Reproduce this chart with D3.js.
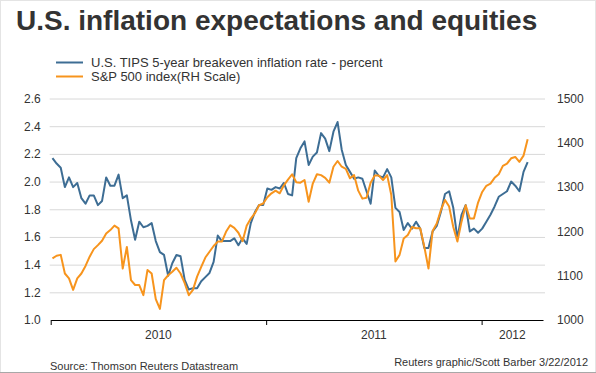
<!DOCTYPE html>
<html>
<head>
<meta charset="utf-8">
<script src="https://cdn.jsdelivr.net/npm/d3@7"></script>
<style>
    body { margin: 0; background: #fff; }
    text { font-family: "Liberation Sans", Arial, sans-serif; fill: #333; }
</style>
</head>
<body>
<div id="chart"></div>
<script>
// Weekly readings, first week starting Mon 4 Jan 2010
const firstWeek = new Date(2010, 0, 4);

// U.S. TIPS 5-year breakeven inflation rate, percent
const tipsRate = [
    2.17, 2.13, 2.10, 1.96, 2.03, 1.96, 1.99, 1.88, 1.84, 1.90,
    1.90, 1.83, 1.86, 2.03, 1.97, 1.97, 2.05, 1.88, 1.90, 1.72,
    1.58, 1.71, 1.67, 1.68, 1.70, 1.57, 1.49, 1.47, 1.32, 1.41,
    1.47, 1.46, 1.29, 1.22, 1.23, 1.23, 1.28, 1.31, 1.34, 1.42,
    1.61, 1.57, 1.57, 1.57, 1.59, 1.54, 1.59, 1.55, 1.70, 1.78,
    1.83, 1.83, 1.95, 1.94, 1.96, 1.95, 1.99, 1.91, 1.90, 2.17,
    2.24, 2.29, 2.12, 2.18, 2.21, 2.35, 2.31, 2.22, 2.36, 2.43,
    2.23, 2.12, 2.07, 2.02, 2.03, 2.02, 1.93, 1.84, 2.08, 2.04,
    2.03, 2.09, 2.03, 1.81, 1.78, 1.65, 1.70, 1.66, 1.71, 1.66,
    1.52, 1.52, 1.64, 1.68, 1.78, 1.91, 1.93, 1.81, 1.59, 1.76,
    1.83, 1.64, 1.66, 1.63, 1.66, 1.71, 1.76, 1.82, 1.89, 1.91,
    1.93, 2.00, 1.97, 1.93, 2.07, 2.14
];

// S&P 500 index (right hand scale)
const spx = [
    1139, 1145, 1147, 1105, 1094, 1068, 1094, 1105, 1122, 1143,
    1160, 1169, 1179, 1195, 1203, 1213, 1207, 1116, 1165, 1090,
    1079, 1079, 1056, 1113, 1105, 1047, 1025, 1090, 1101, 1109,
    1118, 1105, 1083, 1056, 1068, 1098, 1120, 1141, 1154, 1167,
    1177, 1177, 1199, 1214, 1208, 1197, 1178, 1213, 1229, 1241,
    1259, 1263, 1277, 1286, 1292, 1286, 1304, 1317, 1329, 1311,
    1310, 1316, 1267, 1308, 1329, 1327, 1321, 1310, 1346, 1359,
    1346, 1341, 1320, 1327, 1292, 1274, 1276, 1310, 1326, 1326,
    1316, 1327, 1282, 1132, 1147, 1184, 1192, 1210, 1207, 1207,
    1165, 1116, 1201, 1218, 1248, 1271, 1256, 1210, 1177, 1222,
    1259, 1229, 1229, 1265, 1289, 1303, 1308, 1321, 1329, 1348,
    1353, 1365, 1368, 1357, 1371, 1408
];

const leftTicks = [1.0, 1.2, 1.4, 1.6, 1.8, 2.0, 2.2, 2.4, 2.6];
const rightTicks = [1000, 1100, 1200, 1300, 1400, 1500];
const years = ["2010", "2011", "2012"];
const seriesNames = [
    "U.S. TIPS 5-year breakeven inflation rate - percent",
    "S&P 500 index(RH Scale)"
];

const colors = {blue: "#3d6d94", orange: "#f7941d"};

const width = 596;
const height = 373;

const plot = {left: 50.7, right: 543, top: 98.5, bottom: 320};

function main() {
    const dates = tipsRate.map((d, i) => d3.timeWeek.offset(firstWeek, i));

    const svg = d3.select("#chart")
        .append("svg")
        .attr("width", width)
        .attr("height", height);

    // frame
    svg.append("rect")
        .attr("x", 0.5).attr("y", 0.5)
        .attr("width", width - 1).attr("height", height - 1)
        .attr("fill", "#fff")
        .attr("stroke", "#e4e4e4");
    svg.append("line")
        .attr("x1", 0).attr("x2", width)
        .attr("y1", height - 0.5).attr("y2", height - 0.5)
        .attr("stroke", "#a8a8a8");

    const x = d3.scaleTime()
        .domain([new Date(2010, 0, 1), new Date(2012, 3, 14)])
        .range([plot.left, plot.right]);

    const yLeft = d3.scaleLinear()
        .domain([1.0, 2.6])
        .range([plot.bottom, plot.top]);

    const yRight = d3.scaleLinear()
        .domain([1000, 1500])
        .range([plot.bottom, plot.top]);

    // Title
    svg.append("text")
        .attr("x", 16)
        .attr("y", 30)
        .style("font-size", "28px")
        .style("font-weight", "bold")
        .text("U.S. inflation expectations and equities");

    // Legend
    const legend = svg.append("g")
        .selectAll("g")
        .data(seriesNames)
        .enter()
        .append("g")
        .attr("transform", (d, i) => `translate(56, ${62.5 + i * 14})`);

    legend.append("line")
        .attr("x1", 0).attr("x2", 27)
        .attr("stroke", (d, i) => i === 0 ? colors.blue : colors.orange)
        .attr("stroke-width", 2);

    legend.append("text")
        .attr("x", 35)
        .attr("y", 4.5)
        .style("font-size", "13px")
        .text(d => d);

    // Grid lines
    svg.append("g")
        .attr("transform", `translate(${plot.left - 1}, 0)`)
        .call(d3.axisRight(yLeft)
            .tickValues(leftTicks.slice(1))
            .tickSize(plot.right + 2 - plot.left + 1)
            .tickFormat(""))
        .call(g => g.select(".domain").remove())
        .call(g => g.selectAll("line").attr("stroke", "#d8d8d8"));

    // Left axis labels
    svg.append("g")
        .attr("transform", `translate(${plot.left - 10}, 0)`)
        .call(d3.axisLeft(yLeft)
            .tickValues(leftTicks)
            .tickSize(0)
            .tickPadding(0)
            .tickFormat(d3.format(".1f")))
        .call(g => g.select(".domain").remove())
        .call(g => g.selectAll("text").style("font-size", "12px")
            .attr("font-family", null));

    // Right axis labels
    svg.append("g")
        .attr("transform", `translate(${plot.right + 14}, 0)`)
        .call(d3.axisRight(yRight)
            .tickValues(rightTicks)
            .tickSize(0)
            .tickPadding(0)
            .tickFormat(d3.format("d")))
        .call(g => g.select(".domain").remove())
        .call(g => g.selectAll("text").style("font-size", "12px")
            .attr("font-family", null));

    // X axis: ticks at year boundaries, labels centred between them
    const yearStarts = years.map(y => new Date(+y, 0, 1));
    svg.append("g")
        .attr("transform", `translate(0, ${plot.bottom})`)
        .call(d3.axisBottom(x)
            .tickValues(yearStarts)
            .tickSizeInner(5)
            .tickSizeOuter(0)
            .tickFormat(""))
        .call(g => g.select(".domain").attr("stroke", "#000"))
        .call(g => g.selectAll(".tick line").attr("stroke", "#000"));

    const dEnd = x.domain()[1];
    svg.append("g")
        .selectAll("text")
        .data(years)
        .enter()
        .append("text")
        .attr("x", (d, i) => {
            const a = yearStarts[i];
            const b = i + 1 < yearStarts.length ? yearStarts[i + 1] : dEnd;
            return (x(a) + x(b)) / 2;
        })
        .attr("y", 339)
        .attr("text-anchor", "middle")
        .style("font-size", "12px")
        .text(d => d);

    // Lines
    const tipsLine = d3.line()
        .x((d, i) => x(dates[i]))
        .y(d => yLeft(d));

    const spxLine = d3.line()
        .x((d, i) => x(dates[i]))
        .y(d => yRight(d));

    svg.append("path")
        .datum(tipsRate)
        .attr("fill", "none")
        .attr("stroke", colors.blue)
        .attr("stroke-width", 2)
        .attr("stroke-linejoin", "round")
        .attr("d", tipsLine);

    svg.append("path")
        .datum(spx)
        .attr("fill", "none")
        .attr("stroke", colors.orange)
        .attr("stroke-width", 2)
        .attr("stroke-linejoin", "round")
        .attr("d", spxLine);

    // Footer
    svg.append("text")
        .attr("x", 50)
        .attr("y", 369.5)
        .style("font-size", "11px")
        .text("Source: Thomson Reuters Datastream");

    svg.append("text")
        .attr("x", 588)
        .attr("y", 365.5)
        .attr("text-anchor", "end")
        .style("font-size", "11px")
        .text("Reuters graphic/Scott Barber 3/22/2012");
}

main();
</script>
</body>
</html>
